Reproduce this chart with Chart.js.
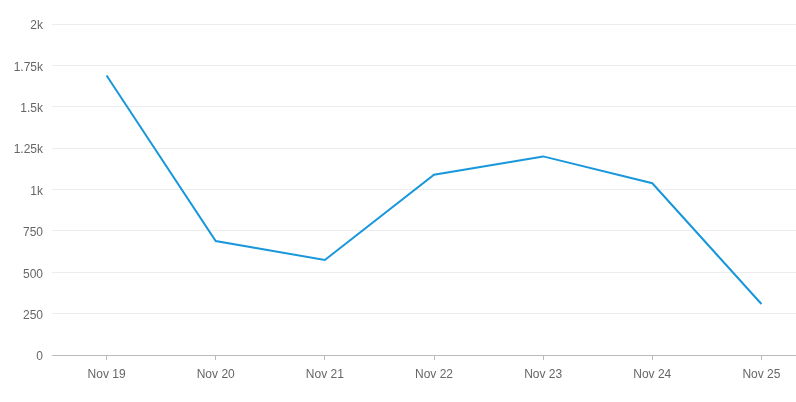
<!DOCTYPE html>
<html>
<head>
<meta charset="utf-8">
<script src="https://cdn.jsdelivr.net/npm/chart.js@4/dist/chart.umd.min.js"></script>
<style>
    html, body { margin: 0; padding: 0; background: #fff; overflow: hidden; }
    #wrap { width: 816px; height: 402px; }
</style>
</head>
<body>
<div id="wrap"><canvas id="chart"></canvas></div>
<script>
// data dibaca dari gambar referensi
const tanggal = ["Nov 19", "Nov 20", "Nov 21", "Nov 22", "Nov 23", "Nov 24", "Nov 25"];
const nilai = [1689, 689, 574, 1089, 1200, 1038, 308];
const yTicks = [0, 250, 500, 750, 1000, 1250, 1500, 1750, 2000];

function labelK(v) {
    if (v < 1000) {
        return String(v);
    }
    return (v / 1000) + "k";
}

Chart.defaults.font.family = "'Liberation Sans', Arial, sans-serif";
Chart.defaults.font.size = 12;
Chart.defaults.color = "#666";

new Chart(document.getElementById("chart").getContext("2d"), {
    type: "line",
    data: {
        labels: tanggal,
        datasets: [{
            data: nilai,
            borderColor: "#1897db",
            borderWidth: 2,
            pointRadius: 0,
            tension: 0,
            fill: false,
        }],
    },
    options: {
        responsive: true,
        maintainAspectRatio: false,
        animation: false,
        layout: { padding: { top: 24, right: 0, bottom: 0, left: 0 } },
        plugins: { legend: { display: false }, tooltip: { enabled: false } },
        scales: {
            x: {
                offset: true,
                grid: {
                    drawOnChartArea: false,
                    drawTicks: true,
                    tickLength: 5,
                    color: "#bbb",
                },
                border: { display: true, color: "#bbb" },
                ticks: { padding: 7, maxRotation: 0 },
                afterFit: (s) => { s.height = 47; },
            },
            y: {
                min: 0,
                max: 2000,
                grid: { color: "#ececec", drawTicks: false },
                border: { display: false },
                ticks: {
                    padding: 9,
                    labelOffset: 2,
                    stepSize: 250,
                    callback: (v) => yTicks.includes(v) ? labelK(v) : null,
                },
                afterFit: (s) => { s.width = 52; },
            },
        },
    },
});
</script>
</body>
</html>
